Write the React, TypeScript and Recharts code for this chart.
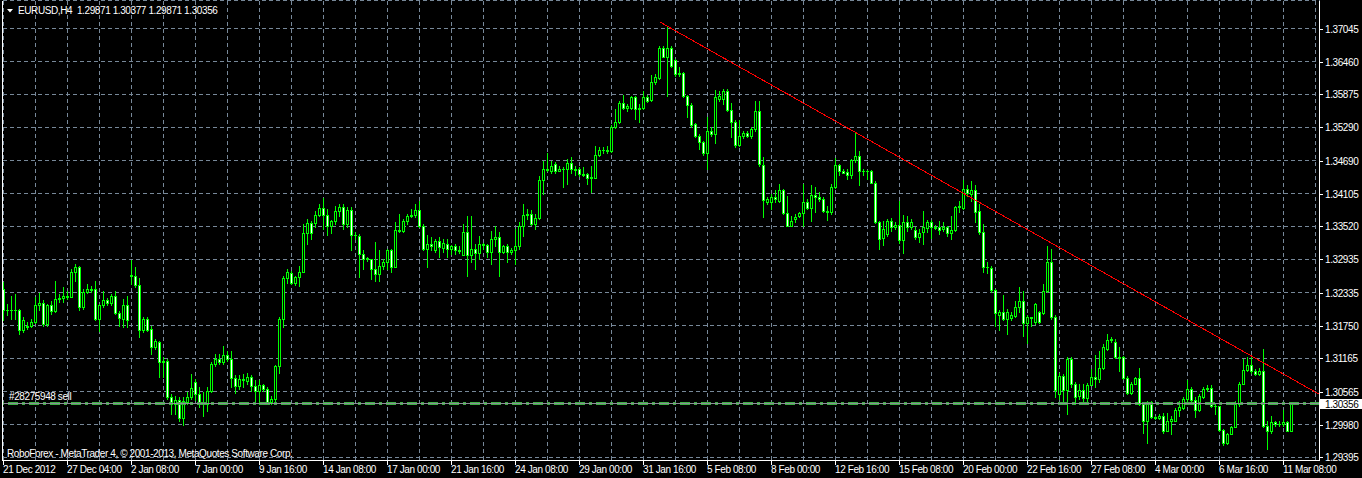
import {
  ComposedChart,
  Bar,
  XAxis,
  YAxis,
  CartesianGrid,
  ReferenceLine,
} from "recharts";

type OHLC = [number, number, number, number];

// open, high, low, close per H4 bar, 21 Dec 2012 .. 18 Jan 2013
const barsDecJan: OHLC[] = [
  [1.3240, 1.3252, 1.3184, 1.3202], [1.3202, 1.3214, 1.3193, 1.3203], [1.3203, 1.3228, 1.3187, 1.3202],
  [1.3202, 1.3231, 1.3187, 1.3203], [1.3202, 1.3205, 1.3159, 1.3167], [1.3167, 1.3190, 1.3163, 1.3184],
  [1.3172, 1.3181, 1.3169, 1.3175], [1.3175, 1.3187, 1.3172, 1.3182], [1.3181, 1.3225, 1.3179, 1.3212],
  [1.3211, 1.3233, 1.3202, 1.3216], [1.3216, 1.3220, 1.3175, 1.3178], [1.3178, 1.3214, 1.3175, 1.3211],
  [1.3211, 1.3219, 1.3196, 1.3201], [1.3201, 1.3254, 1.3199, 1.3223], [1.3223, 1.3231, 1.3217, 1.3224],
  [1.3224, 1.3243, 1.3217, 1.3228], [1.3228, 1.3237, 1.3223, 1.3226], [1.3226, 1.3275, 1.3225, 1.3271],
  [1.3271, 1.3284, 1.3255, 1.3280], [1.3280, 1.3282, 1.3202, 1.3208], [1.3208, 1.3240, 1.3205, 1.3234],
  [1.3234, 1.3249, 1.3233, 1.3240], [1.3240, 1.3246, 1.3234, 1.3239], [1.3240, 1.3255, 1.3185, 1.3187],
  [1.3187, 1.3214, 1.3166, 1.3211], [1.3211, 1.3237, 1.3208, 1.3221], [1.3221, 1.3224, 1.3211, 1.3215],
  [1.3216, 1.3231, 1.3211, 1.3227], [1.3227, 1.3237, 1.3196, 1.3197], [1.3197, 1.3201, 1.3175, 1.3189],
  [1.3187, 1.3222, 1.3172, 1.3212], [1.3212, 1.3227, 1.3173, 1.3184], [1.3265, 1.3292, 1.3249, 1.3263],
  [1.3263, 1.3279, 1.3243, 1.3248], [1.3248, 1.3260, 1.3154, 1.3167], [1.3167, 1.3190, 1.3163, 1.3187],
  [1.3187, 1.3191, 1.3166, 1.3167], [1.3169, 1.3175, 1.3124, 1.3136], [1.3136, 1.3151, 1.3133, 1.3147],
  [1.3146, 1.3148, 1.3083, 1.3110], [1.3110, 1.3118, 1.3083, 1.3111], [1.3111, 1.3115, 1.3044, 1.3047],
  [1.3047, 1.3052, 1.3017, 1.3035], [1.3035, 1.3050, 1.3017, 1.3042], [1.3042, 1.3048, 1.3005, 1.3010],
  [1.3010, 1.3047, 1.2998, 1.3041], [1.3039, 1.3056, 1.3035, 1.3047], [1.3047, 1.3089, 1.3044, 1.3064],
  [1.3075, 1.3080, 1.3042, 1.3052], [1.3052, 1.3065, 1.3029, 1.3035], [1.3035, 1.3056, 1.3014, 1.3038],
  [1.3035, 1.3065, 1.3023, 1.3059], [1.3058, 1.3109, 1.3056, 1.3106], [1.3106, 1.3124, 1.3103, 1.3115],
  [1.3115, 1.3124, 1.3106, 1.3109], [1.3109, 1.3139, 1.3106, 1.3122], [1.3122, 1.3130, 1.3112, 1.3115],
  [1.3115, 1.3130, 1.3065, 1.3082], [1.3082, 1.3086, 1.3055, 1.3067], [1.3067, 1.3086, 1.3062, 1.3080],
  [1.3080, 1.3089, 1.3065, 1.3077], [1.3076, 1.3090, 1.3071, 1.3083], [1.3083, 1.3086, 1.3059, 1.3067],
  [1.3067, 1.3078, 1.3035, 1.3058], [1.3058, 1.3078, 1.3035, 1.3068], [1.3068, 1.3071, 1.3059, 1.3062],
  [1.3062, 1.3065, 1.3035, 1.3038], [1.3038, 1.3050, 1.3035, 1.3044], [1.3044, 1.3105, 1.3041, 1.3102],
  [1.3102, 1.3190, 1.3090, 1.3186], [1.3186, 1.3264, 1.3173, 1.3260], [1.3260, 1.3276, 1.3250, 1.3271],
  [1.3269, 1.3273, 1.3249, 1.3250], [1.3250, 1.3264, 1.3247, 1.3262], [1.3262, 1.3282, 1.3246, 1.3271],
  [1.3271, 1.3356, 1.3270, 1.3340], [1.3340, 1.3365, 1.3321, 1.3358], [1.3358, 1.3362, 1.3330, 1.3340],
  [1.3358, 1.3379, 1.3350, 1.3373], [1.3373, 1.3392, 1.3371, 1.3385], [1.3385, 1.3403, 1.3347, 1.3373],
  [1.3373, 1.3383, 1.3336, 1.3353], [1.3353, 1.3364, 1.3340, 1.3361], [1.3361, 1.3389, 1.3356, 1.3379],
  [1.3379, 1.3392, 1.3371, 1.3387], [1.3387, 1.3392, 1.3347, 1.3356], [1.3356, 1.3387, 1.3350, 1.3381],
  [1.3381, 1.3386, 1.3309, 1.3336], [1.3336, 1.3341, 1.3330, 1.3337], [1.3334, 1.3338, 1.3261, 1.3303],
  [1.3303, 1.3309, 1.3276, 1.3294], [1.3295, 1.3297, 1.3291, 1.3293], [1.3293, 1.3294, 1.3258, 1.3276],
  [1.3276, 1.3324, 1.3255, 1.3267], [1.3267, 1.3309, 1.3255, 1.3282], [1.3282, 1.3294, 1.3276, 1.3288],
  [1.3288, 1.3312, 1.3276, 1.3310], [1.3310, 1.3312, 1.3270, 1.3280], [1.3280, 1.3359, 1.3279, 1.3346],
  [1.3346, 1.3374, 1.3342, 1.3343], [1.3343, 1.3365, 1.3342, 1.3362], [1.3362, 1.3374, 1.3356, 1.3371],
  [1.3371, 1.3383, 1.3368, 1.3373], [1.3373, 1.3391, 1.3368, 1.3381], [1.3381, 1.3398, 1.3350, 1.3352],
  [1.3352, 1.3356, 1.3310, 1.3312], [1.3312, 1.3336, 1.3279, 1.3320], [1.3320, 1.3333, 1.3309, 1.3317],
  [1.3309, 1.3330, 1.3306, 1.3325], [1.3325, 1.3333, 1.3297, 1.3315],
];

// 18 Jan .. 14 Feb 2013
const barsJanFeb: OHLC[] = [
  [1.3314, 1.3330, 1.3306, 1.3323], [1.3320, 1.3329, 1.3298, 1.3312], [1.3312, 1.3319, 1.3303, 1.3316],
  [1.3316, 1.3320, 1.3303, 1.3310], [1.3310, 1.3317, 1.3304, 1.3308], [1.3301, 1.3356, 1.3300, 1.3342],
  [1.3342, 1.3371, 1.3264, 1.3301], [1.3301, 1.3371, 1.3288, 1.3312], [1.3312, 1.3320, 1.3276, 1.3304],
  [1.3304, 1.3335, 1.3294, 1.3321], [1.3321, 1.3323, 1.3312, 1.3318], [1.3318, 1.3321, 1.3297, 1.3307],
  [1.3307, 1.3344, 1.3285, 1.3329], [1.3329, 1.3353, 1.3317, 1.3333], [1.3333, 1.3341, 1.3264, 1.3306],
  [1.3306, 1.3318, 1.3305, 1.3316], [1.3317, 1.3320, 1.3288, 1.3306], [1.3306, 1.3314, 1.3303, 1.3310],
  [1.3310, 1.3347, 1.3285, 1.3317], [1.3317, 1.3359, 1.3312, 1.3353], [1.3353, 1.3392, 1.3335, 1.3372],
  [1.3372, 1.3383, 1.3365, 1.3374], [1.3374, 1.3382, 1.3354, 1.3356], [1.3356, 1.3374, 1.3348, 1.3367],
  [1.3367, 1.3442, 1.3365, 1.3435], [1.3435, 1.3469, 1.3410, 1.3454], [1.3454, 1.3483, 1.3451, 1.3452],
  [1.3451, 1.3469, 1.3448, 1.3460], [1.3463, 1.3466, 1.3448, 1.3451], [1.3451, 1.3459, 1.3450, 1.3455],
  [1.3455, 1.3457, 1.3423, 1.3454], [1.3454, 1.3472, 1.3428, 1.3465], [1.3465, 1.3475, 1.3448, 1.3455],
  [1.3455, 1.3459, 1.3444, 1.3453], [1.3454, 1.3457, 1.3442, 1.3445], [1.3445, 1.3457, 1.3442, 1.3444],
  [1.3446, 1.3448, 1.3428, 1.3439], [1.3439, 1.3459, 1.3413, 1.3440], [1.3439, 1.3496, 1.3438, 1.3479],
  [1.3479, 1.3493, 1.3477, 1.3488], [1.3488, 1.3493, 1.3483, 1.3489], [1.3489, 1.3496, 1.3483, 1.3487],
  [1.3487, 1.3532, 1.3485, 1.3530], [1.3530, 1.3561, 1.3528, 1.3539], [1.3538, 1.3575, 1.3536, 1.3572],
  [1.3572, 1.3586, 1.3561, 1.3563], [1.3563, 1.3570, 1.3558, 1.3566], [1.3563, 1.3585, 1.3561, 1.3582],
  [1.3582, 1.3584, 1.3544, 1.3561], [1.3561, 1.3570, 1.3539, 1.3564], [1.3563, 1.3594, 1.3561, 1.3583],
  [1.3583, 1.3586, 1.3573, 1.3575], [1.3577, 1.3622, 1.3576, 1.3610], [1.3609, 1.3624, 1.3606, 1.3618],
  [1.3617, 1.3674, 1.3615, 1.3670], [1.3670, 1.3674, 1.3654, 1.3655], [1.3655, 1.3710, 1.3585, 1.3671],
  [1.3671, 1.3673, 1.3636, 1.3638], [1.3649, 1.3650, 1.3621, 1.3623], [1.3623, 1.3636, 1.3621, 1.3626],
  [1.3626, 1.3627, 1.3582, 1.3584], [1.3584, 1.3587, 1.3547, 1.3568], [1.3568, 1.3572, 1.3530, 1.3532],
  [1.3535, 1.3536, 1.3511, 1.3513], [1.3513, 1.3517, 1.3490, 1.3502], [1.3503, 1.3505, 1.3479, 1.3483],
  [1.3483, 1.3547, 1.3455, 1.3523], [1.3523, 1.3529, 1.3514, 1.3516], [1.3516, 1.3596, 1.3501, 1.3583],
  [1.3580, 1.3594, 1.3576, 1.3585], [1.3580, 1.3597, 1.3570, 1.3594], [1.3594, 1.3597, 1.3558, 1.3560],
  [1.3560, 1.3572, 1.3511, 1.3538], [1.3538, 1.3541, 1.3493, 1.3497], [1.3497, 1.3541, 1.3496, 1.3514],
  [1.3513, 1.3523, 1.3509, 1.3519], [1.3519, 1.3523, 1.3511, 1.3513], [1.3513, 1.3529, 1.3509, 1.3526],
  [1.3526, 1.3575, 1.3523, 1.3558], [1.3558, 1.3575, 1.3460, 1.3463], [1.3461, 1.3475, 1.3368, 1.3399],
  [1.3395, 1.3404, 1.3392, 1.3401], [1.3395, 1.3410, 1.3383, 1.3404], [1.3404, 1.3416, 1.3395, 1.3401],
  [1.3398, 1.3428, 1.3396, 1.3417], [1.3416, 1.3419, 1.3374, 1.3376], [1.3376, 1.3407, 1.3352, 1.3353],
  [1.3353, 1.3371, 1.3352, 1.3362], [1.3365, 1.3374, 1.3359, 1.3369], [1.3370, 1.3378, 1.3368, 1.3376],
  [1.3376, 1.3428, 1.3353, 1.3395], [1.3395, 1.3401, 1.3383, 1.3384], [1.3384, 1.3426, 1.3362, 1.3408],
  [1.3408, 1.3422, 1.3377, 1.3404], [1.3404, 1.3413, 1.3398, 1.3401], [1.3401, 1.3404, 1.3377, 1.3380],
  [1.3380, 1.3389, 1.3364, 1.3377], [1.3377, 1.3428, 1.3374, 1.3423], [1.3423, 1.3474, 1.3421, 1.3461],
  [1.3461, 1.3463, 1.3444, 1.3450], [1.3450, 1.3455, 1.3447, 1.3448], [1.3449, 1.3454, 1.3436, 1.3444],
  [1.3444, 1.3473, 1.3438, 1.3471], [1.3470, 1.3520, 1.3466, 1.3478], [1.3478, 1.3487, 1.3425, 1.3450],
  [1.3450, 1.3454, 1.3444, 1.3451], [1.3451, 1.3452, 1.3436, 1.3450], [1.3451, 1.3453, 1.3429, 1.3430],
  [1.3430, 1.3433, 1.3358, 1.3359], [1.3359, 1.3362, 1.3311, 1.3329],
];

// 14 Feb .. 11 Mar 2013
const barsFebMar: OHLC[] = [
  [1.3331, 1.3362, 1.3318, 1.3348], [1.3338, 1.3365, 1.3335, 1.3362], [1.3361, 1.3367, 1.3344, 1.3350],
  [1.3350, 1.3359, 1.3347, 1.3355], [1.3355, 1.3397, 1.3323, 1.3328], [1.3328, 1.3373, 1.3304, 1.3359],
  [1.3359, 1.3371, 1.3344, 1.3351], [1.3351, 1.3365, 1.3347, 1.3359], [1.3346, 1.3350, 1.3330, 1.3333],
  [1.3333, 1.3347, 1.3324, 1.3340], [1.3341, 1.3379, 1.3321, 1.3350], [1.3349, 1.3363, 1.3341, 1.3359],
  [1.3359, 1.3363, 1.3332, 1.3351], [1.3351, 1.3355, 1.3347, 1.3349], [1.3350, 1.3362, 1.3338, 1.3346],
  [1.3347, 1.3359, 1.3344, 1.3350], [1.3350, 1.3353, 1.3335, 1.3340], [1.3340, 1.3371, 1.3330, 1.3346],
  [1.3346, 1.3389, 1.3343, 1.3387], [1.3387, 1.3398, 1.3377, 1.3389], [1.3385, 1.3434, 1.3383, 1.3419],
  [1.3419, 1.3425, 1.3407, 1.3411], [1.3410, 1.3432, 1.3398, 1.3417], [1.3417, 1.3425, 1.3359, 1.3378],
  [1.3379, 1.3392, 1.3338, 1.3341], [1.3341, 1.3356, 1.3270, 1.3279], [1.3279, 1.3288, 1.3268, 1.3280],
  [1.3277, 1.3282, 1.3234, 1.3238], [1.3238, 1.3240, 1.3175, 1.3197], [1.3193, 1.3202, 1.3167, 1.3199],
  [1.3199, 1.3230, 1.3184, 1.3187], [1.3187, 1.3205, 1.3160, 1.3199], [1.3189, 1.3199, 1.3184, 1.3193],
  [1.3192, 1.3219, 1.3190, 1.3208], [1.3208, 1.3244, 1.3199, 1.3219], [1.3219, 1.3236, 1.3157, 1.3179],
  [1.3179, 1.3193, 1.3143, 1.3190], [1.3190, 1.3191, 1.3175, 1.3188], [1.3181, 1.3216, 1.3177, 1.3213],
  [1.3199, 1.3201, 1.3179, 1.3181], [1.3197, 1.3249, 1.3196, 1.3237], [1.3236, 1.3317, 1.3234, 1.3289],
  [1.3289, 1.3311, 1.3187, 1.3190], [1.3190, 1.3193, 1.3047, 1.3060], [1.3053, 1.3091, 1.3044, 1.3085],
  [1.3085, 1.3088, 1.3038, 1.3060], [1.3060, 1.3118, 1.3017, 1.3115], [1.3115, 1.3118, 1.3065, 1.3071],
  [1.3071, 1.3074, 1.3035, 1.3047], [1.3050, 1.3071, 1.3044, 1.3060], [1.3060, 1.3071, 1.3038, 1.3045],
  [1.3045, 1.3073, 1.3041, 1.3069], [1.3069, 1.3097, 1.3068, 1.3084], [1.3084, 1.3123, 1.3065, 1.3080],
  [1.3080, 1.3130, 1.3074, 1.3099], [1.3099, 1.3142, 1.3097, 1.3136], [1.3133, 1.3160, 1.3131, 1.3149],
  [1.3149, 1.3154, 1.3145, 1.3151], [1.3146, 1.3151, 1.3117, 1.3118], [1.3118, 1.3136, 1.3094, 1.3117],
  [1.3118, 1.3121, 1.3079, 1.3081], [1.3081, 1.3085, 1.3053, 1.3054], [1.3054, 1.3074, 1.3052, 1.3071],
  [1.3071, 1.3084, 1.3070, 1.3081], [1.3081, 1.3099, 1.3034, 1.3035], [1.3035, 1.3038, 1.2984, 1.3005],
  [1.3005, 1.3041, 1.2965, 1.3038], [1.3038, 1.3040, 1.3010, 1.3012], [1.3012, 1.3013, 1.3008, 1.3010],
  [1.3010, 1.3017, 1.3008, 1.3013], [1.3014, 1.3018, 1.2984, 1.2987], [1.2987, 1.3018, 1.2986, 1.3005],
  [1.3005, 1.3014, 1.2981, 1.3009], [1.3005, 1.3027, 1.3004, 1.3024], [1.3024, 1.3041, 1.3014, 1.3029],
  [1.3028, 1.3047, 1.3026, 1.3044], [1.3044, 1.3077, 1.3041, 1.3062], [1.3062, 1.3065, 1.3040, 1.3042],
  [1.3042, 1.3047, 1.3011, 1.3024], [1.3024, 1.3053, 1.3023, 1.3050], [1.3048, 1.3066, 1.3046, 1.3062],
  [1.3062, 1.3068, 1.3059, 1.3064], [1.3064, 1.3068, 1.3030, 1.3032], [1.3032, 1.3035, 1.3017, 1.3031],
  [1.3031, 1.3032, 1.2987, 1.2989], [1.2989, 1.2990, 1.2962, 1.2965], [1.2965, 1.2984, 1.2964, 1.2982],
  [1.2982, 1.2996, 1.2981, 1.2994], [1.2994, 1.3041, 1.2993, 1.3035], [1.3035, 1.3074, 1.3032, 1.3071],
  [1.3071, 1.3115, 1.3070, 1.3096], [1.3096, 1.3119, 1.3093, 1.3105], [1.3105, 1.3118, 1.3091, 1.3093],
  [1.3093, 1.3097, 1.3086, 1.3089], [1.3089, 1.3099, 1.3086, 1.3094], [1.3094, 1.3133, 1.2994, 1.2996],
  [1.2996, 1.3005, 1.2955, 1.2986], [1.2987, 1.3014, 1.2984, 1.3002], [1.3002, 1.3005, 1.2995, 1.2999],
  [1.2999, 1.3005, 1.2996, 1.3000], [1.3000, 1.3024, 1.2996, 1.3002], [1.3002, 1.3004, 1.2986, 1.2987],
  [1.29871, 1.30377, 1.29871, 1.30356],
];

const timeLabels = [
  "21 Dec 2012", "27 Dec 04:00", "2 Jan 08:00", "7 Jan 00:00", "9 Jan 16:00", "14 Jan 08:00",
  "17 Jan 00:00", "21 Jan 16:00", "24 Jan 08:00", "29 Jan 00:00", "31 Jan 16:00", "5 Feb 08:00",
  "8 Feb 00:00", "12 Feb 16:00", "15 Feb 08:00", "20 Feb 00:00", "22 Feb 16:00", "27 Feb 08:00",
  "4 Mar 00:00", "6 Mar 16:00", "11 Mar 08:00",
];

const priceTicks = [
  1.29395, 1.2998, 1.30565, 1.31165, 1.3175, 1.32335, 1.32935, 1.3352, 1.34105, 1.3469,
  1.3529, 1.35875, 1.3646, 1.37045,
];

const bidPrice = 1.30356;
const orderPrice = 1.3035;
const orderLabel = "#28275948 sell";
const trendStart = { bar: 164, price: 1.3717 };
const trendEnd = { bar: 329, price: 1.3052 };
const titleText = "EURUSD,H4  1.29871 1.30377 1.29871 1.30356";
const footerText = "RoboForex - MetaTrader 4, \u00a9 2001-2013, MetaQuotes Software Corp.";

const BARS_PER_LABEL = 16;
const gridBars = Array.from({ length: 42 }, (_, k) => k * 8);

const candles = [...barsDecJan, ...barsJanFeb, ...barsFebMar].map(([o, h, l, c], i) => ({
  i,
  o,
  h,
  l,
  c,
  range: [Math.min(l, o, c), Math.max(h, o, c)],
}));

const FONT = "'Liberation Sans', Arial, sans-serif";
const LIME = "#00ff00";
const GRID = "#778899";

function Candle(props: any) {
  const { x, y, width, height, payload } = props;
  if (payload == null || !isFinite(y)) return <g />;
  const lo = payload.range[0];
  const hi = payload.range[1];
  const k = hi > lo ? height / (hi - lo) : 0;
  const col = Math.floor(x + width / 2);
  const yo = Math.round(y + (hi - payload.o) * k);
  const yc = Math.round(y + (hi - payload.c) * k);
  const top = Math.min(yo, yc);
  const bot = Math.max(yo, yc);
  const bull = payload.c > payload.o;
  return (
    <g>
      <line x1={col + 0.5} x2={col + 0.5} y1={Math.round(y)} y2={Math.round(y + height) + 1} stroke={LIME} />
      {bot - top < 1 ? (
        <line x1={col - 1} x2={col + 2} y1={top + 0.5} y2={top + 0.5} stroke={LIME} />
      ) : (
        <rect x={col - 0.5} y={top + 0.5} width={2} height={bot - top} fill={bull ? "#000" : "#fff"} stroke={LIME} />
      )}
    </g>
  );
}

function PriceTick(props: any) {
  const { x, y, payload } = props;
  const yy = Math.round(y) + 0.5;
  return (
    <g>
      <line x1={x} x2={x + 3} y1={yy} y2={yy} stroke="#fff" />
      <text x={x + 5.5} y={yy + 3.5} fill="#fff" fontSize={10} fontFamily={FONT} letterSpacing={-0.4}>
        {Number(payload.value).toFixed(5)}
      </text>
    </g>
  );
}

function TimeTick(props: any) {
  const { x, y, payload } = props;
  const idx = payload.value as number;
  const label = idx % BARS_PER_LABEL === 0 ? timeLabels[idx / BARS_PER_LABEL] : undefined;
  if (!label) return <g />;
  const xx = Math.floor(x) + 0.5;
  return (
    <g>
      <line x1={xx} x2={xx} y1={y} y2={y + 4} stroke="#fff" />
      <text x={xx - 0.5} y={y + 12.5} fill="#fff" fontSize={10} fontFamily={FONT} letterSpacing={-0.4}>
        {label}
      </text>
    </g>
  );
}

function BidBox(props: any) {
  const vb = props.viewBox;
  if (!vb) return null;
  const yy = Math.round(vb.y);
  const left = vb.x + vb.width + 0.5;
  return (
    <g>
      <rect x={left} y={yy - 5} width={44} height={10} fill="#fff" />
      <text x={left + 5} y={yy + 3.5} fill="#000" fontSize={10} fontFamily={FONT} letterSpacing={-0.4}>
        {bidPrice.toFixed(5)}
      </text>
    </g>
  );
}

function OrderTag(props: any) {
  const vb = props.viewBox;
  if (!vb) return null;
  return (
    <text x={vb.x + 6.5} y={Math.round(vb.y) - 4} fill="#fff" fontSize={10} fontFamily={FONT} letterSpacing={-0.4}>
      {orderLabel}
    </text>
  );
}

export default function App() {
  return (
    <div className="mt" style={{ position: "fixed", left: 0, top: 0, width: 1362, height: 478, background: "#000" }}>
      <style>{"body{margin:0;background:#000} .mt line,.mt rect,.mt path{shape-rendering:crispEdges}"}</style>
      <ComposedChart
        width={1362}
        height={478}
        data={candles}
        margin={{ top: 0.5, right: 0, bottom: 0, left: 2.5 }}
      >
        <CartesianGrid stroke={GRID} strokeDasharray="4 3" />
        <XAxis
          dataKey="i"
          type="number"
          domain={[-0.25, 329]}
          allowDataOverflow
          ticks={gridBars}
          interval={0}
          height={17.5}
          tickSize={0}
          tickMargin={0}
          tickLine={false}
          axisLine={{ stroke: "#fff" }}
          tick={<TimeTick />}
        />
        <YAxis
          orientation="right"
          type="number"
          domain={[1.29341, 1.3755]}
          allowDataOverflow
          ticks={priceTicks}
          interval={0}
          width={42.5}
          tickSize={0}
          tickMargin={0}
          tickLine={false}
          axisLine={{ stroke: "#fff" }}
          tick={<PriceTick />}
        />
        <ReferenceLine x={-0.25} stroke="#fff" />
        <Bar dataKey="range" barSize={3} shape={<Candle />} isAnimationActive={false} />
        <ReferenceLine
          y={orderPrice}
          stroke="#3cb043"
          strokeWidth={3}
          strokeDasharray="10 4 3 4"
          label={<OrderTag />}
        />
        <ReferenceLine y={bidPrice} stroke="#8a8f96" label={<BidBox />} />
        <ReferenceLine
          segment={[
            { x: trendStart.bar, y: trendStart.price },
            { x: trendEnd.bar, y: trendEnd.price },
          ]}
          stroke="#ff0000"
        />
      </ComposedChart>
      <svg width={1362} height={478} style={{ position: "absolute", left: 0, top: 0, pointerEvents: "none" }}>
        <polygon points="7,9 13,9 10,12.5" fill="#fff" />
        <text x={18} y={14} fill="#fff" fontSize={10} fontFamily={FONT} letterSpacing={-0.4} style={{ whiteSpace: "pre" }}>
          {titleText}
        </text>
        <text x={7} y={456.5} fill="#fff" fontSize={10} fontFamily={FONT} letterSpacing={-0.4}>
          {footerText}
        </text>
      </svg>
    </div>
  );
}
